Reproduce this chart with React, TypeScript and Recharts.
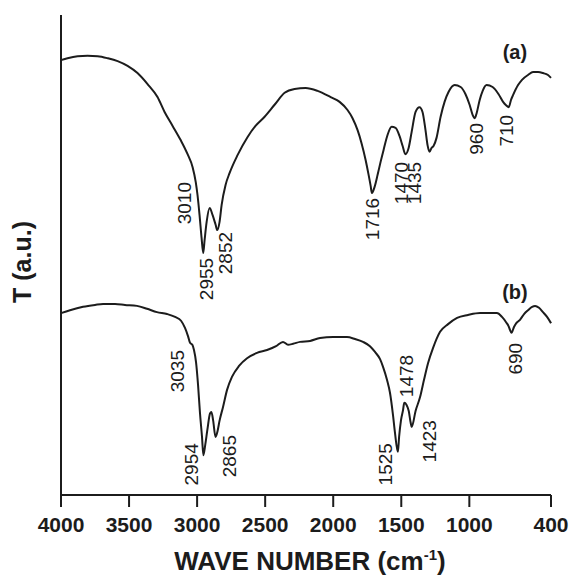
import React from 'react';
import { ComposedChart, Line, Scatter, XAxis, YAxis } from 'recharts';

// FTIR spectrum (a): wavenumber (cm-1) and transmittance (a.u.)
const waveA = [
  4000, 3952, 3878, 3805, 3731, 3658, 3584, 3511, 3438, 3364, 3291, 3239, 3180, 3122, 3070,
  3033, 3010, 2997, 2982, 2967, 2955, 2945, 2930, 2908, 2886, 2864, 2852, 2835, 2820, 2791,
  2761, 2703, 2629, 2571, 2504, 2431, 2357, 2284, 2203, 2115, 2019, 1953, 1895, 1858, 1821,
  1792, 1762, 1740, 1725, 1716, 1696, 1674, 1652, 1630, 1601, 1571, 1542, 1513, 1490, 1470,
  1446, 1424, 1395, 1366, 1344, 1322, 1307, 1292, 1278, 1263, 1241, 1211, 1182, 1152, 1108,
  1064, 1028, 998, 976, 960, 946, 924, 902, 873, 829, 785, 752, 730, 710, 694,
  679, 642, 613, 569, 532, 495, 459, 422, 400,
];
const transA = [
  90.6, 91.0, 91.4, 91.5, 91.4, 91.0, 90.4, 89.4, 87.9, 85.6, 82.9, 79.8, 76.9, 74.0, 71.0,
  68.3, 65.2, 62.5, 58.3, 53.5, 50.4, 53.1, 56.9, 59.8, 58.3, 56.3, 55.2, 56.9, 60.4, 64.6,
  67.1, 70.8, 74.6, 76.9, 78.8, 81.3, 83.8, 84.6, 84.8, 84.2, 82.9, 81.9, 80.2, 78.5, 76.0,
  73.3, 69.8, 66.7, 64.4, 62.9, 64.2, 66.7, 69.4, 71.9, 75.0, 76.7, 76.5, 74.8, 72.7, 71.0,
  72.3, 75.6, 79.8, 80.8, 79.8, 76.0, 72.9, 71.5, 72.3, 72.7, 74.4, 78.8, 81.9, 84.0, 85.4,
  85.0, 83.5, 81.3, 79.2, 78.5, 79.6, 82.3, 84.2, 85.4, 85.0, 83.5, 81.9, 81.2, 80.8, 82.3,
  83.3, 85.4, 86.5, 87.5, 88.1, 88.1, 87.9, 87.5, 86.9,
];

// FTIR spectrum (b)
const waveB = [
  4000, 3934, 3838, 3750, 3691, 3603, 3530, 3442, 3368, 3295, 3221, 3162, 3118, 3089, 3067,
  3052, 3035, 3023, 3008, 2993, 2979, 2964, 2954, 2940, 2925, 2905, 2895, 2882, 2865, 2850,
  2835, 2810, 2780, 2744, 2692, 2633, 2560, 2486, 2420, 2369, 2332, 2295, 2244, 2170, 2097,
  2001, 1899, 1840, 1781, 1730, 1693, 1656, 1634, 1605, 1583, 1561, 1546, 1525, 1516, 1502,
  1487, 1478, 1462, 1445, 1432, 1423, 1395, 1362, 1333, 1303, 1267, 1215, 1156, 1090, 1010,
  921, 848, 797, 760, 730, 712, 700, 690, 672, 655, 628, 598, 569, 539, 517,
  488, 459, 429, 400,
];
const transB = [
  37.9, 38.5, 39.2, 39.6, 39.8, 39.8, 39.6, 39.4, 38.8, 38.1, 37.7, 37.1, 36.3, 34.8, 33.1,
  31.7, 31.3, 30.2, 27.7, 22.9, 17.1, 12.1, 8.3, 10.5, 13.5, 17.0, 17.3, 15.5, 12.1, 13.3,
  15.5, 18.3, 21.9, 24.6, 26.9, 28.5, 29.6, 30.2, 31.0, 31.9, 31.3, 31.5, 31.9, 32.1, 32.7,
  32.9, 32.9, 32.5, 31.9, 31.0, 29.8, 28.3, 26.7, 24.0, 21.3, 16.7, 12.9, 9.0, 12.1, 15.6,
  17.7, 19.2, 18.8, 17.5, 15.2, 14.2, 17.5, 20.4, 24.0, 27.5, 30.6, 34.0, 35.6, 36.9, 37.5,
  37.9, 37.9, 37.9, 37.1, 36.0, 35.2, 34.3, 33.8, 35.0, 35.8, 36.5, 37.7, 38.5, 39.2, 39.4,
  39.0, 38.1, 37.1, 35.8,
];

// Assigned band positions (cm-1)
const peaksA = [3010, 2955, 2852, 1716, 1470, 1435, 960, 710];
const peaksB = [3035, 2954, 2865, 1525, 1478, 1423, 690];

// X-axis ticks
const xTicks = [4000, 3500, 3000, 2500, 2000, 1500, 1000, 400];

// Where each band label sits: upper end level (a.u.) and sideways nudge (px)
const labelLayoutA = [
  { t: 65.2, dx: -11 }, { t: 49.4, dx: 3 }, { t: 54.8, dx: 8 }, { t: 61.9, dx: 1 },
  { t: 69.4, dx: -4 }, { t: 69.4, dx: 4 }, { t: 77.5, dx: 2 }, { t: 79.2, dx: -2 },
];
const labelLayoutB = [
  { t: 30.2, dx: -15 }, { t: 10.8, dx: -12 }, { t: 12.5, dx: 14 }, { t: 10.8, dx: -12 },
  { t: 29.2, dx: 2 }, { t: 15.6, dx: 18 }, { t: 31.7, dx: 4 },
];

// Spectrum tags
const tags = [
  { text: '(a)', w: 665, t: 92.3 },
  { text: '(b)', w: 665, t: 42.3 },
];

const FONT = '"Liberation Sans", Arial, sans-serif';
const INK = '#1c1c1c';

const seriesA = waveA.map((w, i) => ({ w, t: transA[i] }));
const seriesB = waveB.map((w, i) => ({ w, t: transB[i] }));
const bandLabels = [
  ...peaksA.map((w, i) => ({ w, t: labelLayoutA[i].t, dx: labelLayoutA[i].dx, text: String(w) })),
  ...peaksB.map((w, i) => ({ w, t: labelLayoutB[i].t, dx: labelLayoutB[i].dx, text: String(w) })),
];

const BandLabel = (props: any) => {
  const { cx, cy, payload } = props;
  const x = cx + payload.dx;
  return (
    <text
      x={x}
      y={cy}
      transform={`rotate(-90, ${x}, ${cy})`}
      textAnchor="end"
      dominantBaseline="central"
      fontFamily={FONT}
      fontSize={19}
      fill={INK}
    >
      {payload.text}
    </text>
  );
};

const TagLabel = (props: any) => {
  const { cx, cy, payload } = props;
  return (
    <text x={cx} y={cy} textAnchor="middle" dominantBaseline="central" fontFamily={FONT}
      fontSize={20} fontWeight={700} fill={INK}>
      {payload.text}
    </text>
  );
};

const XTitle = (props: any) => {
  const { viewBox } = props;
  const cx = viewBox.x + viewBox.width / 2 + 4;
  const y = viewBox.y + 75;
  return (
    <text x={cx} y={y} textAnchor="middle" fontFamily={FONT} fontSize={26} fontWeight={700} fill={INK}>
      WAVE NUMBER (cm
      <tspan dy={-10} fontSize={15}>-1</tspan>
      <tspan dy={10}>)</tspan>
    </text>
  );
};

const YTitle = (props: any) => {
  const { viewBox } = props;
  const x = viewBox.x + viewBox.width - 39;
  const y = viewBox.y + viewBox.height / 2 + 7;
  return (
    <text x={x} y={y} transform={`rotate(-90, ${x}, ${y})`} textAnchor="middle"
      dominantBaseline="central" fontFamily={FONT} fontSize={25} fontWeight={700} fill={INK}>
      T (a.u.)
    </text>
  );
};

export default function App() {
  return (
    <div style={{ position: 'absolute', left: 0, top: 0, background: '#fff' }}>
      <ComposedChart width={569} height={578} margin={{ top: 15, right: 18, bottom: 0, left: 59 }}>
        <XAxis
          type="number"
          dataKey="w"
          domain={[400, 4000]}
          reversed
          ticks={xTicks}
          interval={0}
          height={83}
          tickSize={12}
          tickMargin={10}
          axisLine={{ stroke: INK, strokeWidth: 2 }}
          tickLine={{ stroke: INK, strokeWidth: 2 }}
          tick={{ fontSize: 21, fontWeight: 700, fill: INK, fontFamily: FONT }}
          label={<XTitle />}
        />
        <YAxis
          type="number"
          domain={[0, 100]}
          width={2}
          tick={false}
          tickLine={false}
          axisLine={{ stroke: INK, strokeWidth: 2 }}
          label={<YTitle />}
        />
        <Line data={seriesA} dataKey="t" type="monotone" stroke={INK} strokeWidth={2}
          dot={false} isAnimationActive={false} />
        <Line data={seriesB} dataKey="t" type="monotone" stroke={INK} strokeWidth={2}
          dot={false} isAnimationActive={false} />
        <Scatter data={bandLabels} dataKey="t" shape={<BandLabel />} isAnimationActive={false} />
        <Scatter data={tags} dataKey="t" shape={<TagLabel />} isAnimationActive={false} />
      </ComposedChart>
    </div>
  );
}
